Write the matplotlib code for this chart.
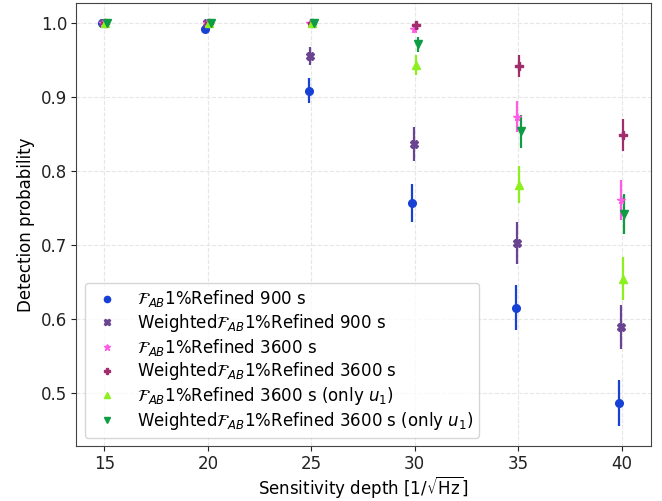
import matplotlib
matplotlib.use("Agg")
import matplotlib.pyplot as plt
import numpy as np

depths = [15, 20, 25, 30, 35, 40]

labels = [
    r'$\mathcal{F}_{AB}$1%Refined 900 s',
    r'Weighted$\mathcal{F}_{AB}$1%Refined 900 s',
    r'$\mathcal{F}_{AB}$1%Refined 3600 s',
    r'Weighted$\mathcal{F}_{AB}$1%Refined 3600 s',
    r'$\mathcal{F}_{AB}$1%Refined 3600 s (only $u_1$)',
    r'Weighted$\mathcal{F}_{AB}$1%Refined 3600 s (only $u_1$)',
]

fab900 = [1.0, 0.992, 0.908, 0.756, 0.615, 0.486]
fab900_err = [0.0, 0.005, 0.017, 0.026, 0.030, 0.031]
wfab900 = [1.0, 0.999, 0.955, 0.836, 0.702, 0.589]
wfab900_err = [0.0, 0.002, 0.012, 0.023, 0.028, 0.030]
fab3600 = [1.0, 1.0, 1.0, 0.992, 0.873, 0.761]
fab3600_err = [0.0, 0.0, 0.0, 0.006, 0.021, 0.027]
wfab3600 = [1.0, 1.0, 1.0, 0.997, 0.941, 0.848]
wfab3600_err = [0.0, 0.0, 0.0, 0.004, 0.015, 0.022]
fab3600u1 = [1.0, 1.0, 1.0, 0.943, 0.781, 0.654]
fab3600u1_err = [0.0, 0.0, 0.0, 0.014, 0.025, 0.029]
wfab3600u1 = [1.0, 1.0, 1.0, 0.971, 0.853, 0.741]
wfab3600u1_err = [0.0, 0.0, 0.0, 0.010, 0.022, 0.027]

values = [fab900, wfab900, fab3600, wfab3600, fab3600u1, wfab3600u1]
errors = [fab900_err, wfab900_err, fab3600_err, wfab3600_err, fab3600u1_err, wfab3600u1_err]
offsets = [-0.12, -0.05, -0.05, 0.05, 0.05, 0.14]
colors = ['#1741d4', '#6a4490', '#ff5ce6', '#a12d6c', '#8cf01e', '#0e9c44']
markers = ['o', 'X', '*', 'P', '^', 'v']

fig = plt.figure(figsize=(6.62, 5.01), dpi=100)
ax = fig.add_axes([0.1153, 0.1098, 0.9830 - 0.1153, 0.9946 - 0.1098])

for v, e, off, c, m, lab in zip(values, errors, offsets, colors, markers, labels):
    x = np.array(depths) + off
    ax.errorbar(x, v, yerr=e, fmt=m, color=c, markersize=5.5, elinewidth=1.6,
                capsize=0, zorder=3)
    ax.plot([], [], linestyle='none', marker=m, color=c, markersize=4.5, label=lab)

ax.set_xlim(13.64, 41.41)
ax.set_ylim(0.428, 1.027)
ax.set_xticks(depths)
ax.set_yticks([0.5, 0.6, 0.7, 0.8, 0.9, 1.0])
ax.grid(True, linestyle='--', color='#e6e6e6', linewidth=0.8)
ax.set_axisbelow(True)
for s in ax.spines.values():
    s.set_color('#444444')
ax.tick_params(labelsize=12, colors='#222222', length=3.5, pad=3)
ax.set_xlabel(r'Sensitivity depth [$1/\sqrt{\mathrm{Hz}}$]', fontsize=12, labelpad=1)
ax.set_ylabel('Detection probability', fontsize=12)
leg = ax.legend(loc='lower left', fontsize=12, frameon=True, handletextpad=0.8,
                borderaxespad=0.5, labelspacing=0.16, borderpad=0.35)
leg.get_frame().set_edgecolor('#cccccc')

fig.savefig('out.png', dpi=100)
